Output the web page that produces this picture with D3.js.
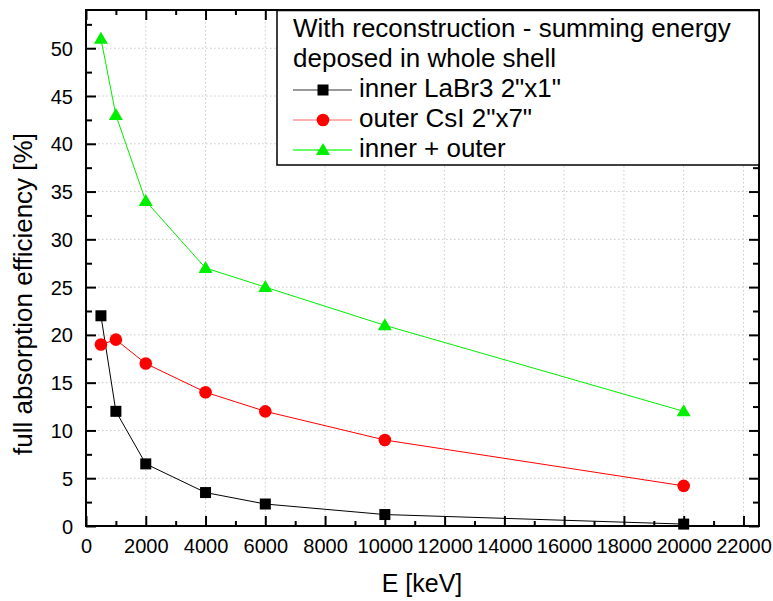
<!DOCTYPE html>
<html>
<head>
<meta charset="utf-8">
<script src="https://cdn.jsdelivr.net/npm/d3@7"></script>
<style>
  body { margin: 0; background: #fff; }
  svg { display: block; font-family: "Liberation Sans", Arial, sans-serif; }
</style>
</head>
<body>
<svg id="chart" width="773" height="601"></svg>
<script>
// energies in keV
const energies = [500, 1000, 2000, 4000, 6000, 10000, 20000];
// full absorption efficiency [%]
const innerLaBr3 = [22, 12, 6.5, 3.5, 2.3, 1.2, 0.2];
const outerCsI = [19, 19.5, 17, 14, 12, 9, 4.2];
const innerPlusOuter = [51, 43, 34, 27, 25, 21, 12];

const seriesNames = ["inner LaBr3 2\"x1\"", "outer CsI 2\"x7\"", "inner + outer"];
const legendTitle = ["With reconstruction - summing energy", "deposed in whole shell"];
const xTicks = d3.range(0, 22001, 2000);
const yTicks = d3.range(0, 51, 5);

const series = [
  { name: seriesNames[0], values: innerLaBr3, color: "#000", legendLine: "#777", shape: "square" },
  { name: seriesNames[1], values: outerCsI, color: "#ff0000", legendLine: "#f99", shape: "circle" },
  { name: seriesNames[2], values: innerPlusOuter, color: "#00ee00", legendLine: "#3f3", shape: "triangle" },
];

const margin = { top: 10, right: 14, bottom: 75, left: 86 };
const width = 773, height = 601;
const innerWidth = width - margin.left - margin.right;
const innerHeight = height - margin.top - margin.bottom;

const svg = d3.select("#chart");
svg.append("rect").attr("width", width).attr("height", height).attr("fill", "#fff");

const g = svg.append("g").attr("transform", `translate(${margin.left},${margin.top})`);

const x = d3.scaleLinear().domain([0, 22520]).range([0, innerWidth]);
const y = d3.scaleLinear().domain([0, 54]).range([innerHeight, 0]);

// grid
g.append("g")
  .selectAll("line")
  .data(xTicks.slice(1))
  .join("line")
  .attr("x1", d => x(d)).attr("x2", d => x(d))
  .attr("y1", 0).attr("y2", innerHeight)
  .attr("stroke", "#c8c8c8").attr("stroke-dasharray", "1.5,2.5");
g.append("g")
  .selectAll("line")
  .data(yTicks.slice(1))
  .join("line")
  .attr("x1", 0).attr("x2", innerWidth)
  .attr("y1", d => y(d)).attr("y2", d => y(d))
  .attr("stroke", "#c8c8c8").attr("stroke-dasharray", "1.5,2.5");

// axes with inward ticks on all four sides
const xMinor = d3.range(1000, 22001, 2000);
const yMinor = d3.range(2.5, 54, 5);

function styleAxis(sel) {
  sel.attr("font-size", 20).attr("font-family", null);
  sel.select(".domain").remove();
  sel.selectAll(".tick line").attr("stroke", "#000").attr("stroke-width", 2);
  sel.selectAll("text").attr("fill", "#000");
}
function noLabels(sel) {
  styleAxis(sel);
  sel.selectAll("text").remove();
}

g.append("g").attr("transform", `translate(0,${innerHeight})`)
  .call(d3.axisBottom(x).tickValues(xTicks).tickSize(-10).tickFormat(d3.format("d")))
  .call(styleAxis)
  .call(a => a.selectAll("text").attr("dy", null).attr("y", 27));
g.append("g").attr("transform", `translate(0,${innerHeight})`)
  .call(d3.axisBottom(x).tickValues(xMinor).tickSize(-5))
  .call(noLabels);

g.append("g")
  .call(d3.axisTop(x).tickValues(xTicks).tickSize(-10))
  .call(noLabels);
g.append("g")
  .call(d3.axisTop(x).tickValues(xMinor).tickSize(-5))
  .call(noLabels);

g.append("g")
  .call(d3.axisLeft(y).tickValues(yTicks).tickSize(-10).tickPadding(13))
  .call(styleAxis)
  .call(a => a.selectAll("text").attr("dy", 7));
g.append("g")
  .call(d3.axisLeft(y).tickValues(yMinor).tickSize(-6))
  .call(noLabels);

g.append("g").attr("transform", `translate(${innerWidth},0)`)
  .call(d3.axisRight(y).tickValues(yTicks).tickSize(-10))
  .call(noLabels);
g.append("g").attr("transform", `translate(${innerWidth},0)`)
  .call(d3.axisRight(y).tickValues(yMinor).tickSize(-6))
  .call(noLabels);

// frame
g.append("rect")
  .attr("width", innerWidth).attr("height", innerHeight)
  .attr("fill", "none").attr("stroke", "#000").attr("stroke-width", 2);

// axis titles
svg.append("text")
  .attr("x", 422).attr("y", 592)
  .attr("text-anchor", "middle").attr("font-size", 25)
  .text("E [keV]");
svg.append("text")
  .attr("transform", "translate(32,294) rotate(-90)")
  .attr("text-anchor", "middle").attr("font-size", 26)
  .text("full absorption efficiency [%]");

// markers
function drawMarker(sel, shape, color, cx, cy) {
  if (shape === "square") {
    sel.append("rect").attr("x", cx - 5.5).attr("y", cy - 5.5)
      .attr("width", 11).attr("height", 11).attr("fill", color);
  } else if (shape === "circle") {
    sel.append("circle").attr("cx", cx).attr("cy", cy).attr("r", 6.3).attr("fill", color);
  } else {
    sel.append("path")
      .attr("d", `M${cx},${cy - 7}L${cx + 7},${cy + 5}L${cx - 7},${cy + 5}Z`)
      .attr("fill", color);
  }
}

const line = d3.line().x(d => x(d[0])).y(d => y(d[1]));

series.forEach(s => {
  const pts = energies.map((e, i) => [e, s.values[i]]);
  g.append("path").datum(pts).attr("d", line)
    .attr("fill", "none").attr("stroke", s.color).attr("stroke-width", 1);
  const mg = g.append("g");
  pts.forEach(p => drawMarker(mg, s.shape, s.color, x(p[0]), y(p[1])));
});

// legend
const lg = svg.append("g");
lg.append("rect")
  .attr("x", 277).attr("y", 10.5).attr("width", 482).attr("height", 154.5)
  .attr("fill", "#fff").attr("stroke", "#000").attr("stroke-width", 1.5);
legendTitle.forEach((t, i) => {
  lg.append("text").attr("x", 293).attr("y", 37 + i * 30)
    .attr("font-size", 26).text(t);
});
series.forEach((s, i) => {
  const yy = 97 + i * 30;
  lg.append("line").attr("x1", 293).attr("x2", 352)
    .attr("y1", yy - 7).attr("y2", yy - 7)
    .attr("stroke", s.legendLine).attr("stroke-width", 1.5);
  drawMarker(lg, s.shape, s.color, 323, yy - 7);
  lg.append("text").attr("x", 359).attr("y", yy)
    .attr("font-size", 26).text(s.name);
});
</script>
</body>
</html>
